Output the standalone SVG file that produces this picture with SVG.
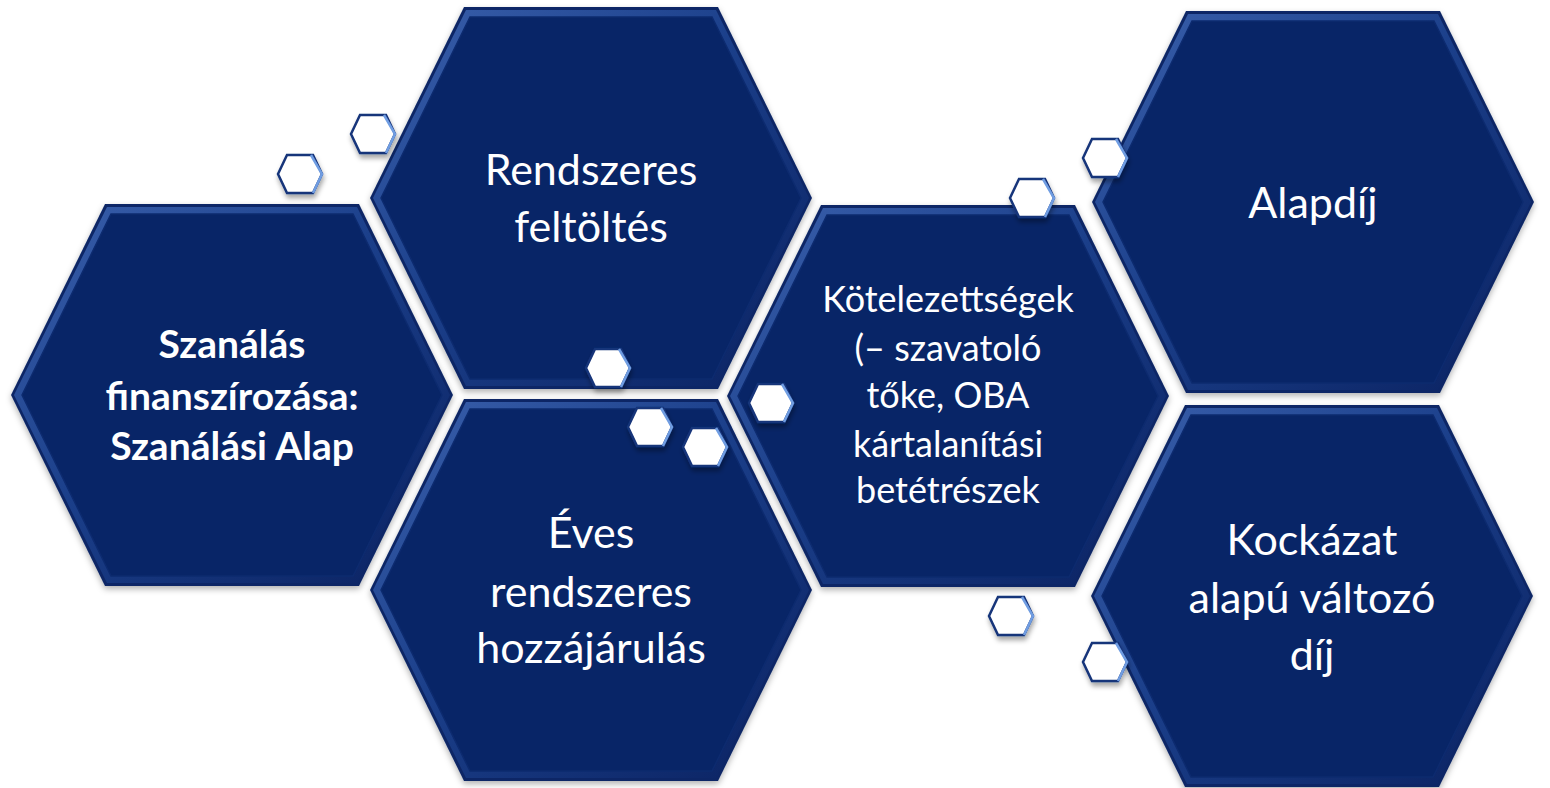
<svg xmlns="http://www.w3.org/2000/svg" xmlns:xlink="http://www.w3.org/1999/xlink" width="1550" height="788" viewBox="0 0 1550 788">
  <defs>
    <style>
      .t { font-family: Lato, "Liberation Sans", sans-serif; fill: #ffffff; text-anchor: middle; }
      .r { font-size: 43px; }
      .k { font-size: 36px; }
      .b { font-size: 39px; font-weight: bold; }
      .sh { fill: #ffffff; stroke: #17347a; stroke-width: 2.5; stroke-linejoin: miter; }
      .hl { fill: none; stroke: #6f9de2; stroke-width: 2.5; }
    </style>
    <linearGradient id="bevel" x1="0" y1="0" x2="1" y2="1">
      <stop offset="0" stop-color="#3b61ad"/>
      <stop offset="0.45" stop-color="#1b3f8a"/>
      <stop offset="1" stop-color="#0a2160"/>
    </linearGradient>
    <filter id="shadowBig" x="-10%" y="-10%" width="120%" height="125%">
      <feDropShadow dx="0" dy="3" stdDeviation="3" flood-color="#000" flood-opacity="0.3"/>
    </filter>
    <filter id="shadowSmall" x="-40%" y="-40%" width="180%" height="200%">
      <feDropShadow dx="1" dy="4" stdDeviation="2.5" flood-color="#000" flood-opacity="0.35"/>
    </filter>
    <polygon id="hexOuter" points="-221,0 -127,-191 127,-191 221,0 127,191 -127,191"/>
    <polygon id="hexBand" points="-218,0 -125,-188 125,-188 218,0 125,188 -125,188"/>
    <polygon id="hexFace" points="-210,0 -121,-181 121,-181 210,0 121,181 -121,181"/>
    <g id="bigHex">
      <use xlink:href="#hexOuter" href="#hexOuter" fill="#0c2766" filter="url(#shadowBig)"/>
      <use xlink:href="#hexBand" href="#hexBand" fill="url(#bevel)"/>
      <use xlink:href="#hexFace" href="#hexFace" fill="#082567" stroke="#0d2b6f" stroke-width="1.5"/>
    </g>
    <g id="smallHex" filter="url(#shadowSmall)">
      <polygon class="sh" points="-22,0 -13,-19 13,-19 22,0 13,19 -13,19"/>
      <polyline class="hl" points="11,-19 22,0 13,19"/>
    </g>
  </defs>

  <rect width="1550" height="788" fill="#ffffff"/>

  <g id="connectors"/>

  <g id="node-szanalas" transform="translate(232,395)">
    <use xlink:href="#bigHex" href="#bigHex"/>
    <text class="t b"><tspan x="0" y="-37">Szanálás</tspan><tspan x="0" y="15">finanszírozása:</tspan><tspan x="0" y="65">Szanálási Alap</tspan></text>
  </g>

  <g id="node-rendszeres" transform="translate(591,198)">
    <use xlink:href="#bigHex" href="#bigHex"/>
    <text class="t r"><tspan x="0" y="-13">Rendszeres</tspan><tspan x="0" y="44">feltöltés</tspan></text>
  </g>

  <g id="node-eves" transform="translate(591,590)">
    <use xlink:href="#bigHex" href="#bigHex"/>
    <text class="t r"><tspan x="0" y="-42">Éves</tspan><tspan x="0" y="17">rendszeres</tspan><tspan x="0" y="73">hozzájárulás</tspan></text>
  </g>

  <g id="node-kotelezettsegek" transform="translate(948,396)">
    <use xlink:href="#bigHex" href="#bigHex"/>
    <text class="t k"><tspan x="0" y="-84">Kötelezettségek</tspan><tspan x="0" y="-35">(– szavatoló</tspan><tspan x="0" y="12">tőke, OBA</tspan><tspan x="0" y="61">kártalanítási</tspan><tspan x="0" y="107">betétrészek</tspan></text>
  </g>

  <g id="node-alapdij" transform="translate(1313,202)">
    <use xlink:href="#bigHex" href="#bigHex"/>
    <text class="t r"><tspan x="0" y="16">Alapdíj</tspan></text>
  </g>

  <g id="node-kockazat" transform="translate(1312,596)">
    <use xlink:href="#bigHex" href="#bigHex"/>
    <text class="t r"><tspan x="0" y="-41">Kockázat</tspan><tspan x="0" y="17">alapú változó</tspan><tspan x="0" y="74">díj</tspan></text>
  </g>

  <g id="decor-small-hexagons">
    <use xlink:href="#smallHex" href="#smallHex" transform="translate(300,174)"/>
    <use xlink:href="#smallHex" href="#smallHex" transform="translate(373,134)"/>
    <use xlink:href="#smallHex" href="#smallHex" transform="translate(608,368)"/>
    <use xlink:href="#smallHex" href="#smallHex" transform="translate(650,427)"/>
    <use xlink:href="#smallHex" href="#smallHex" transform="translate(705,447)"/>
    <use xlink:href="#smallHex" href="#smallHex" transform="translate(771,403)"/>
    <use xlink:href="#smallHex" href="#smallHex" transform="translate(1032,198)"/>
    <use xlink:href="#smallHex" href="#smallHex" transform="translate(1105,158)"/>
    <use xlink:href="#smallHex" href="#smallHex" transform="translate(1011,616)"/>
    <use xlink:href="#smallHex" href="#smallHex" transform="translate(1105,662)"/>
  </g>
</svg>
